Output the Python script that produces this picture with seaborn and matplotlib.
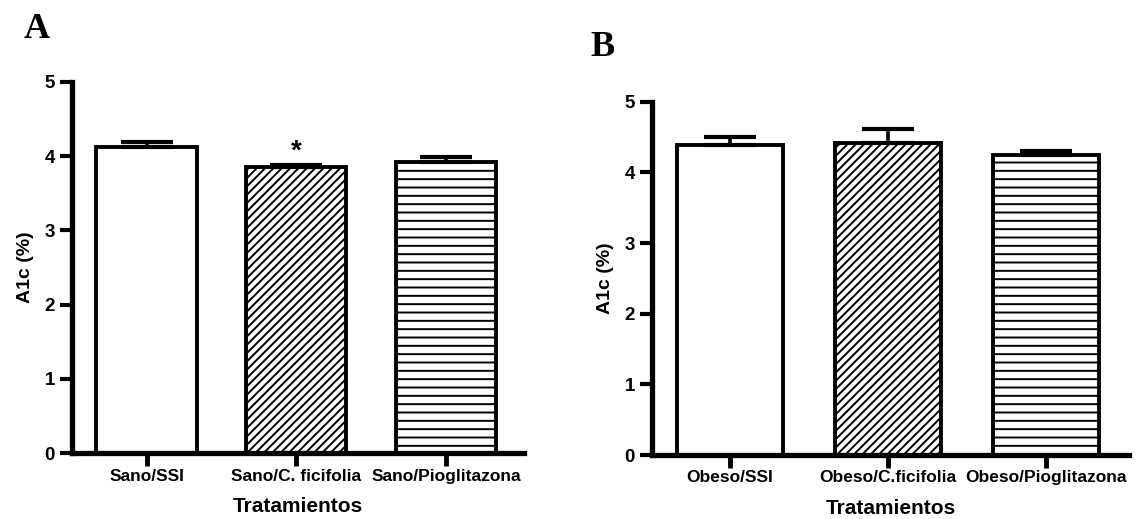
import numpy as np
import pandas as pd
import matplotlib
matplotlib.use("Agg")
import matplotlib.pyplot as plt
import seaborn as sns

# ---- data ----
cats_A = ["Sano/SSI", "Sano/C. ficifolia", "Sano/Pioglitazona"]
mean_A = [4.12, 3.85, 3.92]
sem_A = [0.07, 0.03, 0.07]

cats_B = ["Obeso/SSI", "Obeso/C.ficifolia", "Obeso/Pioglitazona"]
mean_B = [4.38, 4.41, 4.25]
sem_B = [0.12, 0.20, 0.05]

y_ticks = [0, 1, 2, 3, 4, 5]
y_label = "A1c (%)"
x_label = "Tratamientos"

sns.set_theme(style="ticks")
plt.rcParams["font.family"] = ["Liberation Sans", "DejaVu Sans"]
plt.rcParams["font.weight"] = "bold"
plt.rcParams["text.color"] = "black"
plt.rcParams["axes.labelcolor"] = "black"
plt.rcParams["xtick.color"] = "black"
plt.rcParams["ytick.color"] = "black"
plt.rcParams["hatch.linewidth"] = 1.4
plt.rcParams["hatch.color"] = "black"

fig = plt.figure(figsize=(11.45, 5.19), dpi=100)
axA = fig.add_axes([0.0626, 0.1266, 0.395, 0.716])
axB = fig.add_axes([0.5692, 0.1233, 0.4169, 0.6808])

hatches = ["", "////", "--"]


def draw(ax, cats, means, sems, xlim):
    df = pd.DataFrame({"Tratamiento": cats, "A1c": means})
    sns.barplot(data=df, x="Tratamiento", y="A1c", ax=ax, color="white",
                saturation=1, edgecolor="black", linewidth=2.8, width=0.67,
                errorbar=None)
    for p, h in zip(ax.patches, hatches):
        p.set_hatch(h)
    ax.errorbar(np.arange(len(cats)), means,
                yerr=[np.zeros(len(cats)), sems], fmt="none", ecolor="black",
                elinewidth=2.6, capsize=19, capthick=3.0, zorder=3)
    ax.set_ylim(0, 5)
    ax.set_xlim(*xlim)
    ax.set_yticks(y_ticks)
    ax.set_yticklabels([str(t) for t in y_ticks], fontsize=13.5, fontweight="bold")
    ax.set_xticks(np.arange(len(cats)))
    ax.set_xticklabels(cats, fontsize=12.5, fontweight="bold")
    ax.set_ylabel(y_label, fontsize=14, fontweight="bold", labelpad=8)
    ax.set_xlabel(x_label, fontsize=15, fontweight="bold", labelpad=10)
    sns.despine(ax=ax)
    for s in ["left", "bottom"]:
        ax.spines[s].set_linewidth(3.8)
        ax.spines[s].set_color("black")
    ax.tick_params(axis="y", direction="out", length=9, width=3, pad=3,
                   colors="black")
    ax.tick_params(axis="x", direction="out", length=9, width=3.5, pad=2,
                   colors="black")
    ax.set_facecolor("white")


draw(axA, cats_A, mean_A, sem_A, (-0.5, 2.52))
draw(axB, cats_B, mean_B, sem_B, (-0.496, 2.527))

# significance marker
axA.text(1, mean_A[1] + sem_A[1] + 0.0, "*", ha="center", va="bottom",
         fontsize=20, fontweight="bold", color="black")

fig.text(37 / 1145, 1 - 29.5 / 519, "A", ha="center", va="center",
         fontsize=26, fontweight="bold", family="Liberation Serif", color="black")
fig.text(602.5 / 1145, 1 - 47 / 519, "B", ha="center", va="center",
         fontsize=26, fontweight="bold", family="Liberation Serif", color="black")

fig.savefig("out.png", dpi=100, facecolor="white")
